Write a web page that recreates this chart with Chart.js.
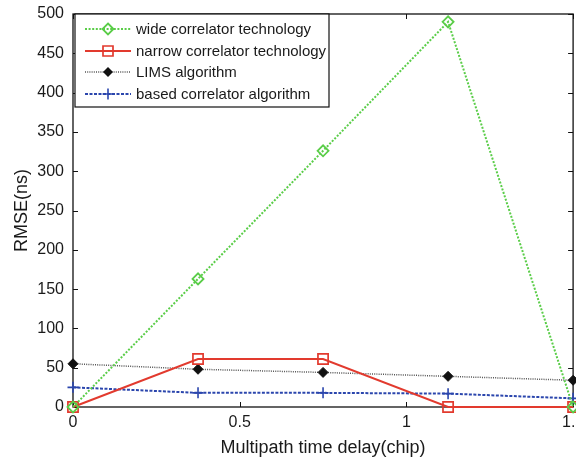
<!DOCTYPE html>
<html><head><meta charset="utf-8">
<script src="https://cdn.jsdelivr.net/npm/chart.js@4/dist/chart.umd.min.js"></script>
<style>html,body{margin:0;padding:0;background:#fff;overflow:hidden;width:576px;height:461px}canvas{display:block}</style>
</head><body>
<canvas id="c" width="582" height="461"></canvas>
<script>
// ---- data ----
const delays = [0, 0.375, 0.75, 1.125, 1.5];
const wideCorrelator = [0, 163, 326, 490, 0];
const narrowCorrelator = [0, 61, 61, 0, 0];
const limsAlgorithm = [55, 48, 44, 39, 34];
const basedCorrelator = [25, 18, 18, 17, 11];
const seriesNames = ['wide correlator technology', 'narrow correlator technology', 'LIMS algorithm', 'based correlator algorithm'];
const xTickValues = [0, 0.5, 1, 1.5];
const yTickValues = [0, 50, 100, 150, 200, 250, 300, 350, 400, 450, 500];
const xTitle = 'Multipath time delay(chip)';
const yTitle = 'RMSE(ns)';

// ---- styles ----
const FONT = "'Liberation Sans', Arial, Helvetica, sans-serif";
const TEXT = '#1a1a1a';
const GREEN = '#5acd48', RED = '#e23a2e', BLUE = '#2b46ad', BLACK = '#111111';
const pts = arr => arr.map((v, i) => ({x: delays[i], y: v}));

const styles = [
  {color: GREEN, dash: [2, 1.6], width: 2, marker: 'diamond', ptStyle: 'rectRot', r: 5.5, fill: 'rgba(0,0,0,0)', pbw: 1.8, lineColor: GREEN},
  {color: RED, dash: [], width: 1.9, marker: 'square', ptStyle: 'rect', r: 7.2, fill: 'rgba(0,0,0,0)', pbw: 1.7, lineColor: RED},
  {color: BLACK, dash: [1, 1.2], width: 1.5, marker: 'fdiamond', ptStyle: 'rectRot', r: 5, fill: BLACK, pbw: 1, lineColor: '#555'},
  {color: BLUE, dash: [3, 1.5], width: 2, marker: 'plus', ptStyle: 'cross', r: 5.5, fill: BLUE, pbw: 1.6, lineColor: BLUE}
];
const seriesData = [wideCorrelator, narrowCorrelator, limsAlgorithm, basedCorrelator];

const datasets = seriesData.map((arr, i) => ({
  label: seriesNames[i],
  data: pts(arr),
  borderColor: styles[i].lineColor,
  borderWidth: styles[i].width,
  borderDash: styles[i].dash,
  pointStyle: styles[i].ptStyle,
  pointRadius: styles[i].r,
  pointHoverRadius: styles[i].r,
  pointBorderColor: styles[i].color,
  pointBackgroundColor: styles[i].fill,
  pointBorderWidth: styles[i].pbw,
  tension: 0,
  fill: false,
  clip: false
}));

function drawMarker(ctx, kind, x, y, color) {
  ctx.save();
  ctx.setLineDash([]);
  ctx.strokeStyle = color; ctx.fillStyle = color;
  ctx.beginPath();
  if (kind === 'diamond') {
    ctx.lineWidth = 1.8;
    ctx.moveTo(x, y - 5.5); ctx.lineTo(x + 5.5, y); ctx.lineTo(x, y + 5.5); ctx.lineTo(x - 5.5, y); ctx.closePath(); ctx.stroke();
  } else if (kind === 'square') {
    ctx.lineWidth = 1.7;
    ctx.rect(x - 5, y - 5, 10, 10); ctx.stroke();
  } else if (kind === 'fdiamond') {
    ctx.moveTo(x, y - 5); ctx.lineTo(x + 5, y); ctx.lineTo(x, y + 5); ctx.lineTo(x - 5, y); ctx.closePath(); ctx.fill();
  } else {
    ctx.lineWidth = 1.6;
    ctx.moveTo(x - 5.5, y); ctx.lineTo(x + 5.5, y); ctx.moveTo(x, y - 5.5); ctx.lineTo(x, y + 5.5); ctx.stroke();
  }
  ctx.restore();
}

const framePlugin = {
  id: 'frame',
  beforeDatasetsDraw(chart) {
    const {ctx, chartArea: a, scales} = chart;
    ctx.save();
    ctx.strokeStyle = '#111';
    ctx.lineWidth = 1.3;
    ctx.strokeRect(a.left, a.top, a.right - a.left, a.bottom - a.top);
    ctx.beginPath();
    const tl = 5;
    xTickValues.forEach(v => {
      const px = Math.round(scales.x.getPixelForValue(v)) + 0.5;
      ctx.moveTo(px, a.bottom); ctx.lineTo(px, a.bottom - tl);
      ctx.moveTo(px, a.top); ctx.lineTo(px, a.top + tl);
    });
    yTickValues.forEach(v => {
      const py = Math.round(scales.y.getPixelForValue(v)) + 0.5;
      ctx.moveTo(a.left, py); ctx.lineTo(a.left + tl, py);
      ctx.moveTo(a.right, py); ctx.lineTo(a.right - tl, py);
    });
    ctx.lineWidth = 1;
    ctx.stroke();
    ctx.restore();
  }
};

const legendPlugin = {
  id: 'boxlegend',
  afterDatasetsDraw(chart) {
    const {ctx, chartArea: a} = chart;
    const bx = a.left + 2, by = a.top, bw = 254, bh = 93;
    ctx.save();
    ctx.fillStyle = '#fff';
    ctx.fillRect(bx, by, bw, bh);
    ctx.strokeStyle = '#111';
    ctx.lineWidth = 1.2;
    ctx.strokeRect(bx, by, bw, bh);
    const rows = [15, 37, 58, 80];
    seriesNames.forEach((name, i) => {
      const s = styles[i];
      const y = by + rows[i];
      ctx.beginPath();
      ctx.setLineDash(s.dash);
      ctx.strokeStyle = s.lineColor;
      ctx.lineWidth = s.width;
      ctx.moveTo(bx + 10, y); ctx.lineTo(bx + 56, y);
      ctx.stroke();
      drawMarker(ctx, s.marker, bx + 33, y, s.color);
      ctx.setLineDash([]);
      ctx.fillStyle = TEXT;
      ctx.font = '15px ' + FONT;
      ctx.textBaseline = 'middle';
      ctx.textAlign = 'left';
      ctx.fillText(name, bx + 61, y + 0.5);
    });
    ctx.restore();
  }
};

new Chart(document.getElementById('c'), {
  type: 'line',
  data: {datasets},
  options: {
    responsive: false,
    animation: false,
    devicePixelRatio: 1,
    layout: {padding: {top: 14, right: 3, left: 0, bottom: 0}},
    plugins: {legend: {display: false}, tooltip: {enabled: false}},
    scales: {
      x: {
        type: 'linear', min: 0, max: 1.5,
        afterBuildTicks: s => { s.ticks = xTickValues.map(v => ({value: v})); },
        afterFit: s => { s.height = 54; s.paddingLeft = 0; s.paddingRight = 0; },
        grid: {display: false, drawTicks: false},
        border: {display: false},
        ticks: {padding: 6, color: TEXT, font: {family: FONT, size: 16}, maxRotation: 0, autoSkip: false,
                callback: v => String(v)},
        title: {display: true, text: xTitle, color: TEXT, font: {family: FONT, size: 18}, padding: {top: 0, bottom: 2}}
      },
      y: {
        min: 0, max: 500,
        afterBuildTicks: s => { s.ticks = yTickValues.map(v => ({value: v})); },
        afterFit: s => { s.width = 73; s.paddingTop = 0; s.paddingBottom = 0; },
        grid: {display: false, drawTicks: false},
        border: {display: false},
        ticks: {padding: 9, color: TEXT, font: {family: FONT, size: 16}, autoSkip: false,
                callback: v => String(v)},
        title: {display: true, text: yTitle, color: TEXT, font: {family: FONT, size: 18}, padding: {top: 11, bottom: 0}}
      }
    }
  },
  plugins: [framePlugin, legendPlugin]
});
</script>
</body></html>
